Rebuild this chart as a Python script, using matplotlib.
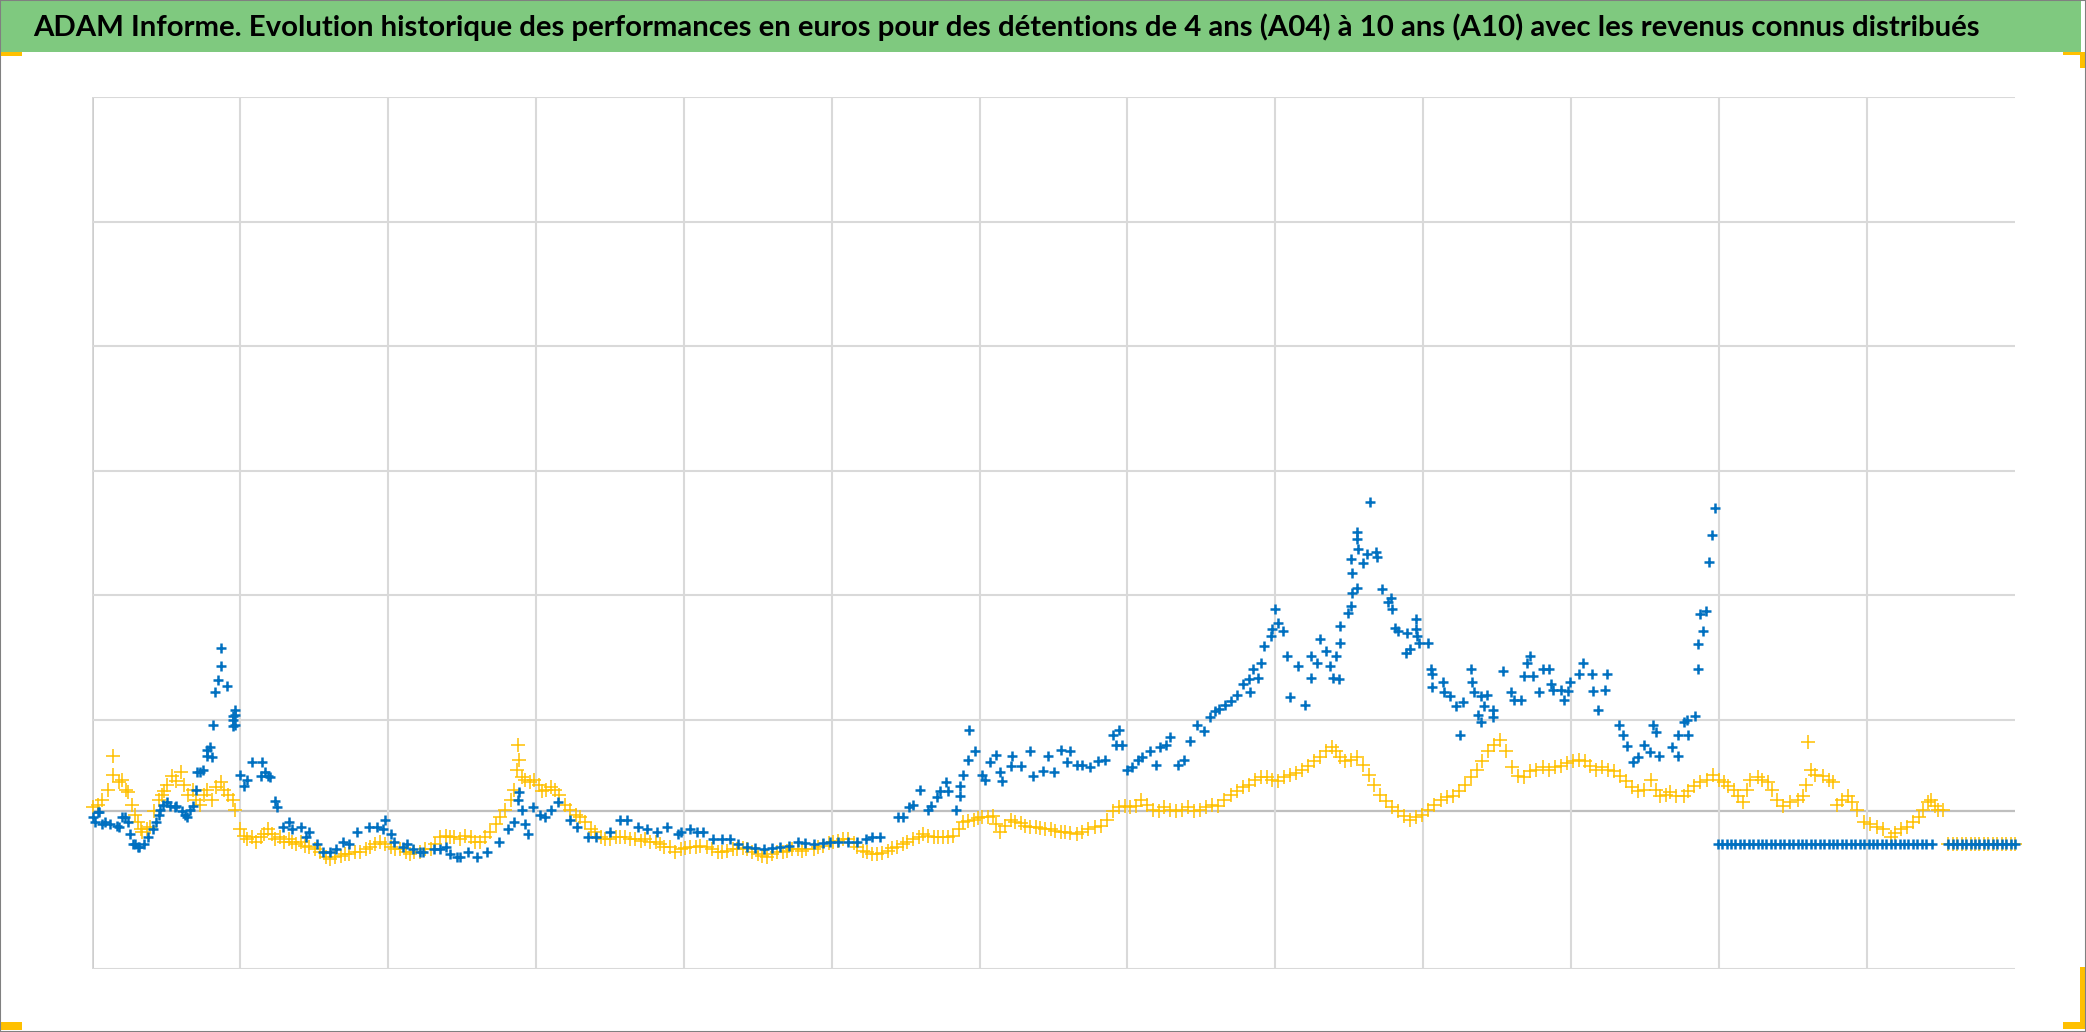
import matplotlib

matplotlib.use("Agg")
import matplotlib.pyplot as plt
from matplotlib.patches import Rectangle

TITLE = ("ADAM Informe. Evolution historique des performances en euros pour des "
         "détentions de 4 ans (A04) à 10 ans (A10) avec les revenus connus distribués")

# (x, performance); 0 = no value yet for that start date
A04_POINTS = [  # yellow
    (1, 30), (4, 32), (7, 36), (11, 44), (14, 71), (14, 56), (18, 50), (20, 52), (23, 44), (24, 42),
    (27, 32), (29, 24), (31, 18), (33, 12), (34, 10), (37, 12), (39, 14), (42, 27), (45, 36), (47, 40),
    (49, 43), (51, 48), (54, 55), (57, 51), (60, 58), (62, 48), (65, 40), (68, 44), (70, 36), (73, 32),
    (76, 40), (78, 44), (81, 36), (84, 46), (87, 50), (89, 44), (92, 40), (95, 36), (97, 28), (100, 12),
    (103, 7), (105, 4), (108, 6), (111, 2), (114, 6), (116, 8), (119, 12), (122, 8), (124, 4), (127, 6),
    (130, 2), (133, 4), (135, 2), (138, 0), (141, 2), (144, -1), (147, -2), (151, -4), (154, -6), (158, -10),
    (161, -12), (164, -10), (168, -9), (171, -8), (174, -8), (178, -6), (181, -6), (185, -4), (188, -2), (191, 0),
    (195, 2), (198, 0), (202, -2), (205, -4), (208, -4), (212, -6), (215, -8), (218, -6), (222, -6), (225, -4),
    (229, -4), (232, 0), (235, 6), (239, 7), (242, 6), (245, 6), (249, 4), (252, 7), (256, 6), (259, 2),
    (262, 2), (266, 6), (269, 10), (273, 16), (276, 22), (279, 28), (283, 36), (285, 44), (287, 60), (288, 80),
    (289, 68), (291, 54), (293, 52), (296, 50), (299, 52), (302, 48), (304, 43), (307, 44), (310, 46), (313, 44),
    (316, 40), (320, 32), (323, 28), (327, 24), (330, 22), (333, 18), (337, 12), (340, 10), (344, 6), (347, 4),
    (350, 4), (354, 6), (357, 6), (360, 6), (364, 4), (367, 4), (371, 3), (374, 4), (377, 2), (381, 2),
    (384, 0), (387, -2), (391, -2), (394, -6), (398, -4), (401, -3), (404, -2), (408, -2), (411, -1), (416, -2),
    (419, -4), (423, -6), (426, -6), (429, -5), (433, -4), (436, -4), (440, -3), (443, -4), (446, -6), (450, -8),
    (453, -9), (456, -10), (460, -8), (463, -6), (467, -6), (470, -5), (473, -4), (477, -4), (480, -5), (483, -4),
    (488, -4), (491, -2), (494, -1), (498, 1), (501, 2), (504, 3), (508, 4), (511, 4), (515, 1), (517, -2),
    (521, -5), (524, -6), (527, -8), (531, -8), (534, -7), (538, -5), (541, -3), (544, -2), (548, 0), (551, 2),
    (555, 4), (559, 6), (562, 8), (565, 7), (569, 6), (572, 6), (575, 6), (579, 6), (582, 7), (586, 12),
    (589, 18), (592, 19), (596, 20), (599, 21), (602, 22), (606, 22), (609, 23), (611, 16), (614, 10), (617, 15),
    (621, 20), (624, 18), (628, 17), (631, 15), (634, 14), (638, 14), (641, 13), (644, 12), (648, 12), (651, 11),
    (655, 10), (658, 10), (661, 9), (666, 8), (669, 10), (673, 12), (678, 14), (682, 15), (686, 20), (690, 27),
    (694, 30), (698, 31), (702, 30), (706, 31), (709, 36), (713, 32), (717, 28), (721, 27), (725, 30), (729, 28),
    (733, 27), (737, 28), (741, 30), (745, 27), (749, 28), (753, 30), (757, 32), (761, 31), (765, 36), (770, 40),
    (774, 43), (778, 46), (782, 48), (786, 52), (790, 54), (794, 54), (798, 52), (802, 51), (806, 54), (810, 56),
    (814, 57), (818, 60), (822, 63), (826, 67), (830, 70), (834, 75), (838, 78), (841, 75), (844, 70), (847, 67),
    (851, 68), (855, 70), (859, 64), (863, 56), (867, 48), (871, 40), (875, 35), (879, 30), (883, 27), (887, 23),
    (891, 20), (895, 22), (899, 24), (903, 28), (907, 32), (912, 36), (916, 38), (920, 39), (924, 43), (928, 48),
    (932, 54), (936, 60), (940, 67), (944, 75), (948, 80), (952, 84), (956, 75), (960, 62), (964, 55), (968, 54),
    (972, 59), (976, 60), (981, 62), (985, 60), (989, 62), (993, 63), (997, 65), (1001, 67), (1005, 68), (1009, 67),
    (1013, 63), (1017, 60), (1021, 62), (1025, 60), (1029, 59), (1033, 55), (1037, 51), (1041, 46), (1045, 43), (1049, 44),
    (1054, 52), (1057, 44), (1060, 39), (1064, 40), (1067, 42), (1071, 39), (1076, 39), (1079, 43), (1083, 47), (1087, 50),
    (1092, 52), (1096, 56), (1100, 52), (1103, 50), (1106, 47), (1110, 44), (1113, 39), (1116, 34), (1119, 44), (1121, 52),
    (1126, 54), (1129, 52), (1133, 50), (1136, 44), (1139, 36), (1143, 31), (1148, 34), (1153, 36), (1157, 39), (1159, 48),
    (1160, 82), (1162, 60), (1165, 56), (1170, 55), (1174, 52), (1177, 50), (1180, 32), (1183, 36), (1187, 39), (1190, 34),
    (1193, 28), (1198, 18), (1202, 16), (1207, 14), (1211, 12), (1216, 6), (1219, 9), (1223, 12), (1227, 14), (1231, 18),
    (1235, 22), (1238, 28), (1241, 34), (1243, 36), (1246, 31), (1248, 28), (1251, 28),
    (1255, 0), (1258, 0), (1261, 0), (1264, 0), (1267, 0), (1270, 0), (1273, 0), (1276, 0), (1279, 0), (1282, 0),
    (1285, 0), (1288, 0), (1291, 0), (1294, 0), (1297, 0), (1300, 0),
]

A10_POINTS = [  # blue
    (1, 22), (2, 18), (4, 26), (5, 26), (7, 16), (9, 18), (12, 16), (17, 15), (18, 14), (20, 22),
    (22, 22), (24, 18), (26, 8), (28, 0), (29, 0), (31, -2), (32, -2), (35, 0), (38, 6), (41, 12),
    (43, 18), (45, 24), (46, 28), (48, 32), (51, 34), (53, 31), (56, 30), (57, 31), (61, 27), (63, 24),
    (64, 22), (66, 28), (68, 31), (70, 44), (71, 58), (73, 58), (75, 60), (78, 76), (78, 71), (80, 78),
    (81, 70), (82, 96), (83, 122), (85, 132), (87, 143), (87, 158), (91, 127), (95, 103), (95, 100), (95, 95),
    (97, 108), (97, 104), (97, 96), (100, 56), (103, 47), (105, 52), (108, 66), (114, 55), (115, 66), (117, 58),
    (119, 55), (120, 54), (124, 35), (125, 30), (129, 14), (133, 18), (135, 12), (141, 14), (145, 6), (147, 10),
    (152, 0), (156, -6), (161, -6), (165, -4), (170, 2), (174, 0), (179, 10), (187, 14), (193, 14), (197, 12),
    (198, 20), (202, 8), (204, 2), (210, -2), (213, 0), (217, -4), (222, -6), (224, -6), (231, -4), (235, -4),
    (239, -2), (242, -8), (247, -10), (249, -10), (254, -6), (260, -10), (267, -6), (275, 2), (281, 12), (285, 18),
    (288, 36), (289, 42), (291, 28), (293, 16), (295, 8), (298, 30), (303, 24), (306, 22), (310, 28), (315, 34),
    (323, 20), (328, 14), (335, 6), (341, 6), (350, 10), (357, 20), (362, 20), (369, 14), (375, 12), (382, 10),
    (389, 14), (396, 8), (398, 10), (404, 12), (409, 10), (413, 10), (420, 4), (426, 4), (431, 4), (437, 0),
    (443, -2), (448, -3), (454, -4), (460, -3), (465, -2), (471, -1), (477, 2), (482, 1), (488, 0), (494, 1),
    (499, 2), (504, 2), (511, 2), (517, 2), (523, 4), (527, 6), (533, 6), (545, 22), (548, 22), (552, 30),
    (555, 32), (560, 44), (565, 28), (567, 31), (571, 38), (573, 43), (577, 50), (579, 43), (584, 28), (587, 39),
    (587, 47), (589, 56), (592, 68), (593, 92), (597, 75), (602, 56), (604, 52), (607, 66), (611, 72), (614, 58),
    (615, 51), (621, 63), (622, 71), (628, 63), (634, 75), (636, 55), (643, 59), (646, 71), (650, 58), (655, 76),
    (659, 66), (661, 75), (666, 64), (669, 64), (675, 62), (680, 67), (685, 68), (690, 88), (692, 80), (694, 92),
    (696, 80), (700, 60), (703, 62), (707, 68), (710, 70), (715, 75), (719, 64), (722, 78), (726, 80), (729, 86),
    (734, 64), (738, 68), (742, 83), (747, 96), (752, 91), (756, 102), (759, 107), (762, 109), (766, 112), (770, 115),
    (774, 120), (778, 129), (782, 133), (783, 122), (785, 141), (788, 134), (790, 146), (792, 159), (797, 167), (798, 173),
    (800, 189), (802, 178), (805, 171), (808, 151), (810, 118), (815, 143), (820, 112), (824, 134), (824, 151), (828, 146),
    (830, 165), (834, 155), (837, 143), (839, 134), (841, 151), (843, 133), (844, 162), (844, 175), (849, 186), (851, 191),
    (852, 202), (851, 229), (852, 218), (855, 206), (855, 251), (855, 245), (856, 237), (859, 226), (862, 233), (864, 275),
    (868, 235), (869, 231), (872, 205), (876, 195), (878, 198), (879, 189), (881, 174), (883, 171), (888, 154), (889, 170),
    (891, 157), (895, 181), (895, 173), (896, 167), (897, 162), (903, 162), (905, 141), (906, 137), (906, 126), (913, 130),
    (914, 122), (918, 119), (922, 111), (925, 88), (927, 114), (932, 141), (933, 130), (934, 122), (937, 104), (939, 119),
    (939, 98), (941, 111), (943, 120), (947, 108), (947, 102), (954, 139), (959, 122), (961, 116), (966, 116), (968, 135),
    (970, 146), (972, 151), (974, 135), (978, 122), (981, 141), (985, 141), (986, 129), (988, 124), (993, 124), (995, 116),
    (998, 123), (999, 130), (1005, 137), (1008, 146), (1014, 137), (1015, 123), (1018, 108), (1023, 124), (1024, 137), (1032, 96),
    (1035, 88), (1038, 79), (1042, 66), (1045, 70), (1049, 80), (1053, 74), (1055, 96), (1057, 90), (1059, 71), (1068, 78),
    (1072, 71), (1072, 88), (1076, 98), (1078, 100), (1079, 88), (1084, 103), (1086, 141), (1086, 161), (1087, 185), (1089, 171),
    (1091, 187), (1093, 227), (1095, 248), (1097, 270),
    (1099, 0), (1102, 0), (1105, 0), (1108, 0), (1111, 0), (1114, 0), (1117, 0), (1120, 0), (1123, 0), (1126, 0),
    (1129, 0), (1132, 0), (1135, 0), (1138, 0), (1141, 0), (1144, 0), (1147, 0), (1150, 0), (1153, 0), (1156, 0),
    (1159, 0), (1162, 0), (1165, 0), (1168, 0), (1171, 0), (1174, 0), (1177, 0), (1180, 0), (1183, 0), (1186, 0),
    (1189, 0), (1192, 0), (1195, 0), (1198, 0), (1201, 0), (1204, 0), (1207, 0), (1210, 0), (1213, 0), (1216, 0),
    (1219, 0), (1222, 0), (1225, 0), (1228, 0), (1231, 0), (1234, 0), (1237, 0), (1240, 0), (1244, 0),
    (1255, 0), (1258, 0), (1261, 0), (1264, 0), (1267, 0), (1270, 0), (1273, 0), (1276, 0), (1279, 0), (1282, 0),
    (1285, 0), (1288, 0), (1291, 0), (1294, 0), (1297, 0), (1300, 0),
]

X_GRID = [0, 100, 200, 300, 400, 500, 600, 700, 800, 900, 1000, 1100, 1200]
Y_GRID = [-100, 100, 200, 300, 400, 500, 600]
AXIS_LEVEL = 27

BLUE = "#0070C0"
YELLOW = "#FFC000"
GREEN = "#7FC97F"
W, H = 2086, 1032


def main():
    fig = plt.figure(figsize=(W / 100, H / 100), dpi=100)

    # green title band
    fig.patches.append(Rectangle((0, 1 - 52 / H), 2081 / W, 52 / H,
                                 transform=fig.transFigure, facecolor=GREEN,
                                 edgecolor="none", zorder=0))
    fig.text(33 / W, 1 - 27 / H, TITLE, ha="left", va="center",
             fontsize=21.2, fontweight="bold", family=["Lato", "DejaVu Sans"])

    # selection handles in the corners
    for x0, y0, x1, y1 in [(0, 52, 22, 56), (2063, 52, 2085, 55), (2080, 52, 2085, 68),
                           (0, 1022, 22, 1030), (2080, 967, 2085, 1028),
                           (2063, 1022, 2085, 1029)]:
        fig.patches.append(Rectangle((x0 / W, 1 - y1 / H), (x1 - x0) / W, (y1 - y0) / H,
                                     transform=fig.transFigure, facecolor=YELLOW,
                                     edgecolor="none", zorder=2))
    fig.patches.append(Rectangle((0, 0), 1, 1, transform=fig.transFigure,
                                 facecolor="none", edgecolor="#808080", lw=1.5, zorder=3))

    ax = fig.add_axes([92 / W, 1 - 969 / H, (2015 - 92) / W, (969 - 97) / H])
    ax.set_xlim(0, 1300)
    ax.set_ylim(-100, 600)
    ax.set_xticks(X_GRID)
    ax.set_yticks(Y_GRID)
    ax.grid(True, color="#D9D9D9", lw=1.5)
    ax.tick_params(length=0, labelbottom=False, labelleft=False)
    for s in ax.spines.values():
        s.set_visible(False)
    ax.axvline(0, color="#BFBFBF", lw=1.8, zorder=1)
    ax.axhline(AXIS_LEVEL, color="#BFBFBF", lw=1.6, zorder=1)

    xs, ys = zip(*A04_POINTS)
    ax.plot(xs, ys, ls="none", marker="+", ms=10.5, mew=1.1, color=YELLOW,
            clip_on=False, zorder=3)
    xs, ys = zip(*A10_POINTS)
    ax.plot(xs, ys, ls="none", marker="+", ms=6.5, mew=1.8, color=BLUE,
            clip_on=False, zorder=4)

    fig.savefig("out.png", dpi=100)


if __name__ == "__main__":
    main()
